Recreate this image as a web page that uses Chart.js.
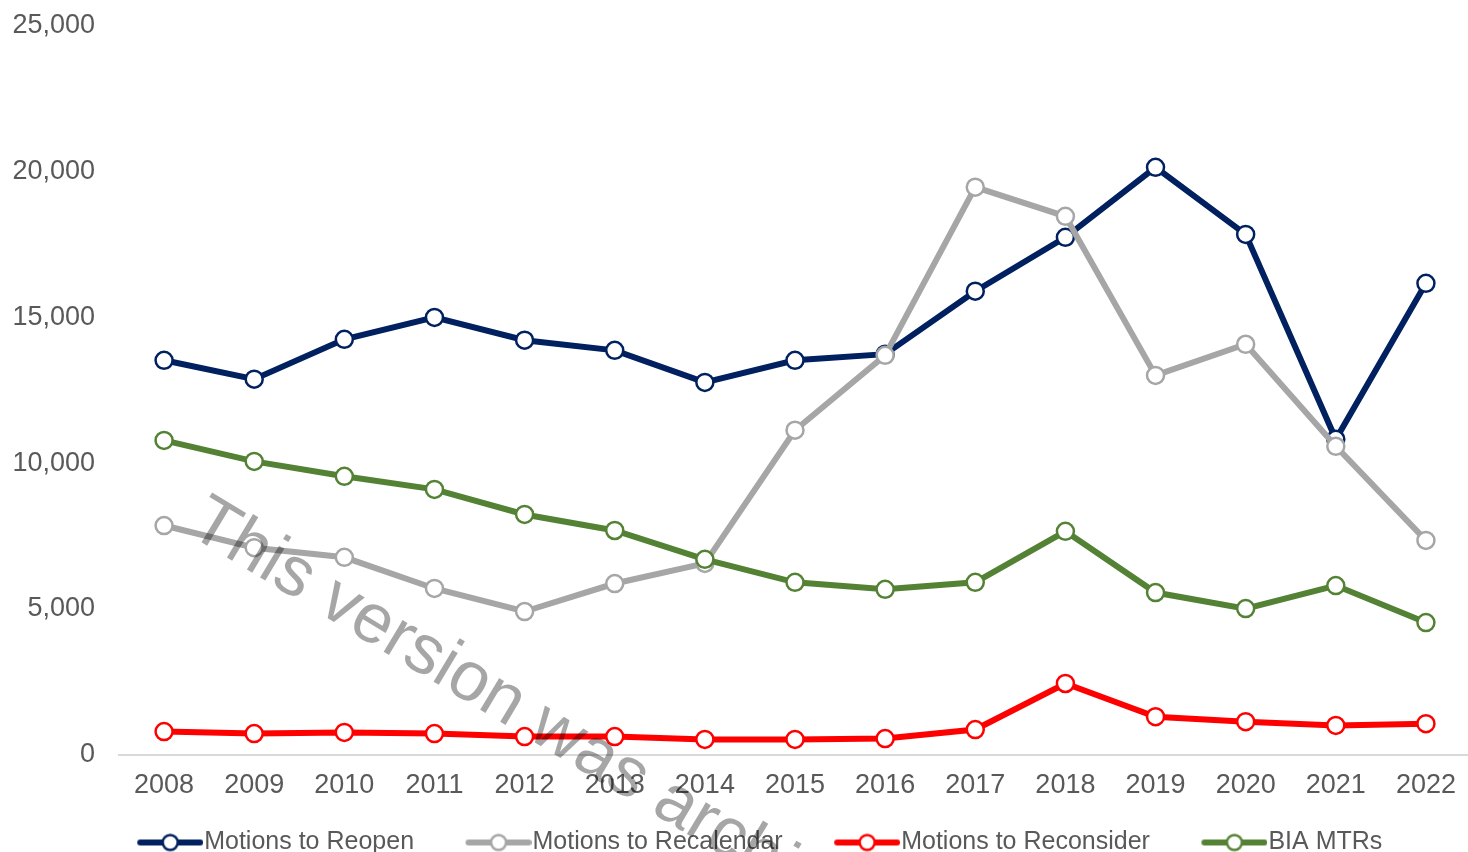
<!DOCTYPE html>
<html><head><meta charset="utf-8">
<script src="https://cdn.jsdelivr.net/npm/chart.js@4"></script>
<style>
html,body{margin:0;padding:0;overflow:hidden;background:#fff}
#wrap{position:absolute;left:0;top:0;width:1471px;height:865px}
</style>
</head><body>
<div id="wrap"><canvas id="c"></canvas></div>
<script>
const years = ['2008','2009','2010','2011','2012','2013','2014','2015','2016','2017','2018','2019','2020','2021','2022'];
const motionsToReopen = [13530,12880,14250,15000,14220,13870,12770,13530,13740,15900,17750,20150,17850,10820,16170];
const motionsToRecalendar = [7860,7100,6770,5700,4910,5870,6560,11130,13700,19470,18470,13010,14080,10580,7350];
const motionsToReconsider = [790,720,760,720,620,620,520,520,550,860,2440,1300,1130,1000,1060];
const biaMTRs = [10780,10060,9550,9100,8240,7690,6700,5910,5670,5910,7660,5560,5010,5800,4530];
const seriesNames = ['Motions to Reopen','Motions to Recalendar','Motions to Reconsider','BIA MTRs'];
const seriesColors = ['#002060','#A6A6A6','#FF0000','#548235'];
const yTicks = [0,5000,10000,15000,20000,25000];

const FONT = "'Liberation Sans', Arial, sans-serif";
const TXT = '#595959';

function legendImage(color){
  const cv = document.createElement('canvas');
  cv.width = 116; cv.height = 24;
  const g = cv.getContext('2d');
  g.strokeStyle = color; g.lineWidth = 6; g.lineCap = 'round';
  g.beginPath(); g.moveTo(53, 12); g.lineTo(113, 12); g.stroke();
  g.beginPath(); g.arc(83, 12, 7.5, 0, Math.PI*2);
  g.fillStyle = '#fff'; g.fill();
  g.lineWidth = 2.5; g.stroke();
  return cv;
}
const legendImgs = seriesColors.map(legendImage);

const watermark = {
  id: 'watermark',
  afterDraw(chart){
    const ctx = chart.ctx;
    ctx.save();
    ctx.translate(186, 533);
    ctx.rotate(31*Math.PI/180);
    ctx.font = "70px " + FONT;
    ctx.fillStyle = 'rgba(0,0,0,0.35)';
    ctx.textBaseline = 'alphabetic';
    ctx.fillText('This version was archived', 0, 0);
    ctx.restore();
  }
};

const allSeries = [motionsToReopen, motionsToRecalendar, motionsToReconsider, biaMTRs];
const datasets = allSeries.map((d,i)=>({
  label: seriesNames[i],
  data: d,
  borderColor: seriesColors[i],
  backgroundColor: '#fff',
  borderWidth: 6,
  pointRadius: 8.5,
  pointBorderWidth: 2.5,
  pointBackgroundColor: '#fff',
  pointBorderColor: seriesColors[i],
  tension: 0,
  clip: false,
  order: 4 - i
}));

new Chart(document.getElementById('c'), {
  type: 'line',
  data: { labels: years, datasets },
  options: {
    responsive: true,
    maintainAspectRatio: false,
    animation: false,
    devicePixelRatio: 1,
    layout: { autoPadding: false, padding: { top: 26, left: 10, right: 0, bottom: 0 } },
    plugins: {
      tooltip: { enabled: false },
      legend: {
        position: 'bottom',
        labels: {
          usePointStyle: true,
          pointStyleWidth: 93,
          padding: 13,
          color: TXT,
          font: { family: FONT, size: 25 },
          generateLabels(chart){
            return seriesNames.map((n,i)=>({
              text: n,
              fillStyle: '#fff',
              strokeStyle: seriesColors[i],
              lineWidth: 0,
              pointStyle: legendImgs[i],
              hidden: false,
              datasetIndex: i,
              fontColor: TXT
            }));
          }
        }
      }
    },
    scales: {
      x: {
        offset: true,
        afterFit(scale){ scale.paddingLeft = 0; scale.paddingRight = 0; },
        grid: { display: false, drawTicks: false },
        border: { display: true, color: '#D9D9D9', width: 2 },
        ticks: { color: TXT, font: { family: FONT, size: 27 }, padding: 15, maxRotation: 0, autoSkip: false }
      },
      y: {
        min: 0, max: 25000,
        afterFit(scale){ scale.width = 109; scale.paddingTop = 0; scale.paddingBottom = 0; },
        afterBuildTicks(scale){ scale.ticks = yTicks.map(v=>({value:v})); },
        grid: { display: false, drawTicks: false },
        border: { display: false },
        ticks: {
          color: TXT, font: { family: FONT, size: 27 }, padding: 24,
          callback: v => Number(v).toLocaleString('en-US')
        }
      }
    }
  },
  plugins: [watermark]
});
</script>
</body></html>
